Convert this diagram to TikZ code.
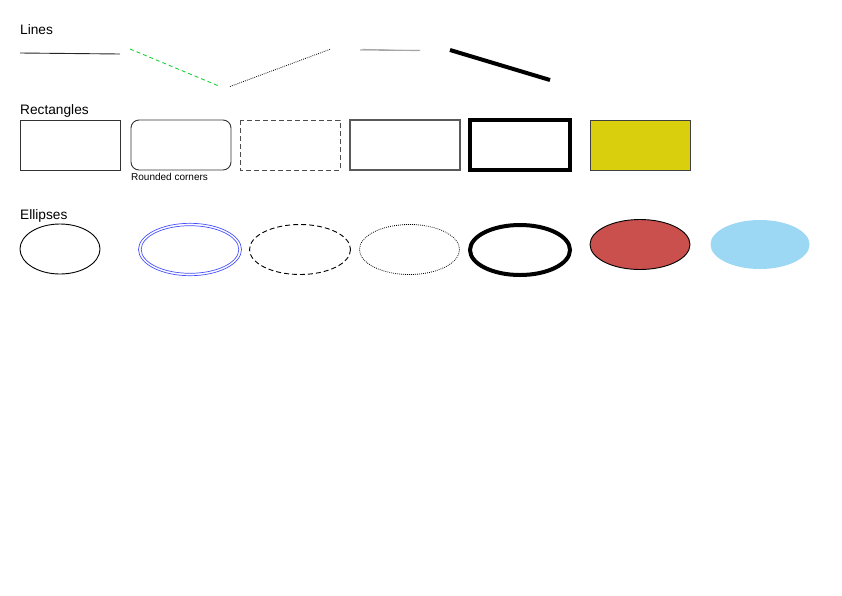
\documentclass[tikz,border=0pt]{standalone}
\usepackage{fontspec}
\setmainfont{Liberation Sans}
\definecolor{yel}{RGB}{217,207,12}
\definecolor{redf}{RGB}{201,80,76}
\definecolor{skyf}{RGB}{156,215,243}
\definecolor{dblue}{RGB}{70,80,250}
\definecolor{greenl}{RGB}{30,210,60}
\tikzset{
  heading/.style={anchor=base west,inner sep=0pt,font=\fontsize{13.7}{15}\selectfont},
  small/.style={anchor=base west,inner sep=0pt,font=\fontsize{10}{12}\selectfont},
  thinbox/.style={draw=black!80,line width=0.9pt},
}
\begin{document}
\begin{tikzpicture}[x=1pt,y=-1pt]
\useasboundingbox (0,0) rectangle (842,595);
% headings
\node[heading] (hl) at (20,34) {Lines};
\node[heading] (hr) at (20,114) {Rectangles};
\node[heading] (he) at (20,219) {Ellipses};
% lines
\draw[black!85,line width=0.9pt] (20,53) -- (120,54);
\draw[greenl,line width=0.9pt,dash pattern=on 4pt off 3pt] (130,49) -- (220,86.5);
\draw[black,line width=0.8pt,dash pattern=on 0.8pt off 1.2pt] (230,86.5) -- (330,49.3);
\draw[black!55,line width=0.8pt] (360,50) -- (420,50.3);
\draw[black!35,line width=0.8pt] (362,49.3) -- (418,50.8);
\draw[black,line width=4pt] (450,50) -- (550,80);
% rectangles
\draw[thinbox] (20,120) rectangle (120,170);
\draw[thinbox,rounded corners=8pt] (131,120) rectangle (231,170);
\node[small] (rc) at (131,180) {Rounded corners};
\draw[black!70,line width=1pt,dash pattern=on 5pt off 3pt] (240,120) rectangle (340,170);
\draw[black!65,line width=1.2pt] (350,120) rectangle (460,170);
\draw[black,line width=4pt] (470,120) rectangle (570,170);
\draw[black!75,fill=yel,line width=1pt] (590,120) rectangle (690,170);
% ellipses
\draw[black,line width=0.9pt] (60,249) ellipse [x radius=40,y radius=25];
\draw[dblue,line width=0.7pt] (190,249.5) ellipse [x radius=51.5,y radius=26.2];
\draw[dblue,line width=0.7pt] (190,249.5) ellipse [x radius=48.8,y radius=23.8];
\draw[black,line width=0.9pt,dash pattern=on 5pt off 3pt] (300,249.5) ellipse [x radius=50.5,y radius=25];
\draw[black,line width=0.8pt,dash pattern=on 0.8pt off 1.2pt] (409.5,249.5) ellipse [x radius=50,y radius=25];
\draw[black,line width=4pt] (520,250) ellipse [x radius=50,y radius=25];
\draw[black,fill=redf,line width=0.9pt] (640,244.5) ellipse [x radius=50,y radius=25];
\fill[skyf] (760,244.5) ellipse [x radius=49.5,y radius=24.5];
\end{tikzpicture}
\end{document}
